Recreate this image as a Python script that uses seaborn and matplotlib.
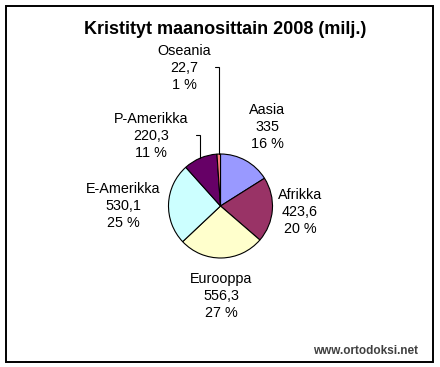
import numpy as np
import matplotlib
matplotlib.use("Agg")
import matplotlib.pyplot as plt
import matplotlib.patches as mpatches
import seaborn as sns

# ---- data ----
categories = ["Aasia", "Afrikka", "Eurooppa", "E-Amerikka", "P-Amerikka", "Oseania"]
values = [335, 423.6, 556.3, 530.1, 220.3, 22.7]
value_labels = ["335", "423,6", "556,3", "530,1", "220,3", "22,7"]
colors = ["#9999FF", "#993366", "#FFFFCC", "#CCFFFF", "#660066", "#FF8080"]
title = "Kristityt maanosittain 2008 (milj.)"
credit = "www.ortodoksi.net"

sns.set_theme(style="white")
plt.rcParams["font.family"] = ["Liberation Sans", "DejaVu Sans"]

W, H = 440, 367
fig = plt.figure(figsize=(W / 100, H / 100), dpi=100)
fig.patch.set_facecolor("white")
ax = fig.add_axes([0, 0, 1, 1])

cx, cy, R = 220.5, H - 206, 52
wedges, _ = ax.pie(values, colors=colors, startangle=90, counterclock=False,
                   center=(cx, cy), radius=R,
                   wedgeprops=dict(edgecolor="black", linewidth=0.8))
ax.set_xlim(0, W)
ax.set_ylim(0, H)
ax.set_aspect("equal")
ax.axis("off")

total = sum(values)
pcts = [f"{round(v / total * 100)} %" for v in values]

# label positions (pixels from top-left), centre of the middle line
label_pos = {
    "Aasia": (267, 127),
    "Afrikka": (300, 212),
    "Eurooppa": (221, 296),
    "E-Amerikka": (123, 206),
    "P-Amerikka": (151, 136),
    "Oseania": (184, 68),
}
for cat, vl, pc in zip(categories, value_labels, pcts):
    x, y = label_pos[cat]
    ax.text(x, H - y, f"{cat}\n{vl}\n{pc}", ha="center", va="center",
            fontsize=10.4, color="black", linespacing=1.25)

# leader lines for small slices
leader_top = {"P-Amerikka": 135, "Oseania": 67}
for w, cat in zip(wedges, categories):
    if cat in leader_top:
        mid = np.deg2rad((w.theta1 + w.theta2) / 2)
        ex, ey = cx + R * np.cos(mid), cy + R * np.sin(mid)
        ty = H - leader_top[cat]
        ax.plot([ex - 4, ex, ex], [ty, ty, ey], color="black", lw=0.8,
                solid_joinstyle="miter")

ax.text(225, H - 30, title, ha="center", va="center", fontsize=13,
        fontweight="bold", color="black")
ax.text(418, H - 351, credit, ha="right", va="center", fontsize=8.5,
        fontweight="bold", color="#404040")

fig.add_artist(mpatches.Rectangle((6 / W, 1 - 362 / H), 427 / W, 356 / H,
                                  transform=fig.transFigure, fill=False,
                                  edgecolor="black", linewidth=1.4))

fig.savefig("out.png", dpi=100, facecolor="white")
